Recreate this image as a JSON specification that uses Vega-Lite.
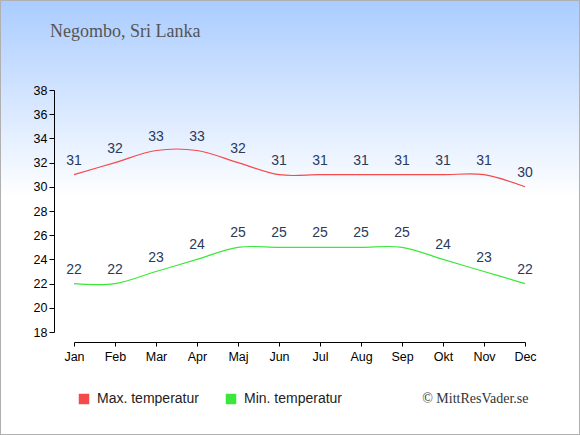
{
  "$schema": "https://vega.github.io/schema/vega-lite/v6.json",
  "width": 580,
  "height": 435,
  "autosize": "none",
  "padding": 0,
  "background": "#ffffff",
  "title": {
    "text": "Negombo, Sri Lanka",
    "anchor": "start",
    "frame": "group",
    "orient": "top",
    "offset": 0,
    "dx": 50,
    "dy": 55,
    "baseline": "alphabetic",
    "font": "Liberation Serif",
    "fontSize": 18,
    "fontWeight": "normal",
    "color": "#555555"
  },
  "config": {
    "view": {
      "fill": {
        "gradient": "linear",
        "x1": 0, "y1": 0, "x2": 0, "y2": 1,
        "stops": [
          {"offset": 0, "color": "#aaccff"},
          {"offset": 0.455, "color": "#ffffff"},
          {"offset": 1, "color": "#ffffff"}
        ]
      },
      "stroke": "#b0b0b0",
      "strokeWidth": 2
    },
    "axis": {
      "labelFont": "Liberation Sans",
      "labelFontSize": 12.5,
      "labelColor": "#000000",
      "domainColor": "#000000",
      "tickColor": "#000000",
      "grid": false
    }
  },
  "data": {
    "values": [
      {"month": "Jan", "series": "Max. temperatur", "temp": 31},
      {"month": "Feb", "series": "Max. temperatur", "temp": 32},
      {"month": "Mar", "series": "Max. temperatur", "temp": 33},
      {"month": "Apr", "series": "Max. temperatur", "temp": 33},
      {"month": "Maj", "series": "Max. temperatur", "temp": 32},
      {"month": "Jun", "series": "Max. temperatur", "temp": 31},
      {"month": "Jul", "series": "Max. temperatur", "temp": 31},
      {"month": "Aug", "series": "Max. temperatur", "temp": 31},
      {"month": "Sep", "series": "Max. temperatur", "temp": 31},
      {"month": "Okt", "series": "Max. temperatur", "temp": 31},
      {"month": "Nov", "series": "Max. temperatur", "temp": 31},
      {"month": "Dec", "series": "Max. temperatur", "temp": 30},
      {"month": "Jan", "series": "Min. temperatur", "temp": 22},
      {"month": "Feb", "series": "Min. temperatur", "temp": 22},
      {"month": "Mar", "series": "Min. temperatur", "temp": 23},
      {"month": "Apr", "series": "Min. temperatur", "temp": 24},
      {"month": "Maj", "series": "Min. temperatur", "temp": 25},
      {"month": "Jun", "series": "Min. temperatur", "temp": 25},
      {"month": "Jul", "series": "Min. temperatur", "temp": 25},
      {"month": "Aug", "series": "Min. temperatur", "temp": 25},
      {"month": "Sep", "series": "Min. temperatur", "temp": 25},
      {"month": "Okt", "series": "Min. temperatur", "temp": 24},
      {"month": "Nov", "series": "Min. temperatur", "temp": 23},
      {"month": "Dec", "series": "Min. temperatur", "temp": 22}
    ]
  },
  "encoding": {
    "x": {
      "field": "month",
      "type": "ordinal",
      "sort": ["Jan", "Feb", "Mar", "Apr", "Maj", "Jun", "Jul", "Aug", "Sep", "Okt", "Nov", "Dec"],
      "scale": {"type": "point", "range": [74, 525], "padding": 0},
      "axis": {
        "orient": "bottom",
        "offset": -93,
        "labelAngle": 0,
        "tickSize": 4,
        "labelPadding": 4,
        "title": "© MittResVader.se",
        "titleFont": "Liberation Serif",
        "titleFontSize": 14,
        "titleFontWeight": "normal",
        "titleColor": "#333333",
        "titleAlign": "right",
        "titleBaseline": "alphabetic",
        "titleX": 528,
        "titleY": 60
      }
    },
    "y": {
      "field": "temp",
      "type": "quantitative",
      "scale": {"domain": [18, 38], "range": [332, 90], "nice": false, "zero": false},
      "axis": {
        "orient": "left",
        "offset": -54,
        "values": [18, 20, 22, 24, 26, 28, 30, 32, 34, 36, 38],
        "tickSize": 5,
        "labelPadding": 2,
        "title": null
      }
    }
  },
  "layer": [
    {
      "mark": {"type": "line", "interpolate": "cardinal", "strokeWidth": 1.2},
      "encoding": {
        "color": {
          "field": "series",
          "type": "nominal",
          "scale": {
            "domain": ["Max. temperatur", "Min. temperatur"],
            "range": ["#f44a4a", "#3ae83a"]
          },
          "legend": {
            "title": null,
            "orient": "none",
            "legendX": 77,
            "legendY": 392,
            "direction": "horizontal",
            "padding": 0,
            "symbolType": "square",
            "symbolSize": 110,
            "labelFont": "Liberation Sans",
            "labelFontSize": 14,
            "labelColor": "#222222",
            "labelOffset": 6,
            "columnPadding": 25,
            "encode": {
              "symbols": {
                "update": {
                  "fill": {"scale": "color", "field": "value"},
                  "strokeWidth": {"value": 0},
                  "opacity": {"value": 1}
                }
              }
            }
          }
        }
      }
    },
    {
      "mark": {
        "type": "text",
        "baseline": "alphabetic",
        "dy": -10,
        "font": "Liberation Sans",
        "fontSize": 14,
        "color": "#2a3a5c"
      },
      "encoding": {
        "text": {"field": "temp", "type": "quantitative"}
      }
    }
  ]
}
